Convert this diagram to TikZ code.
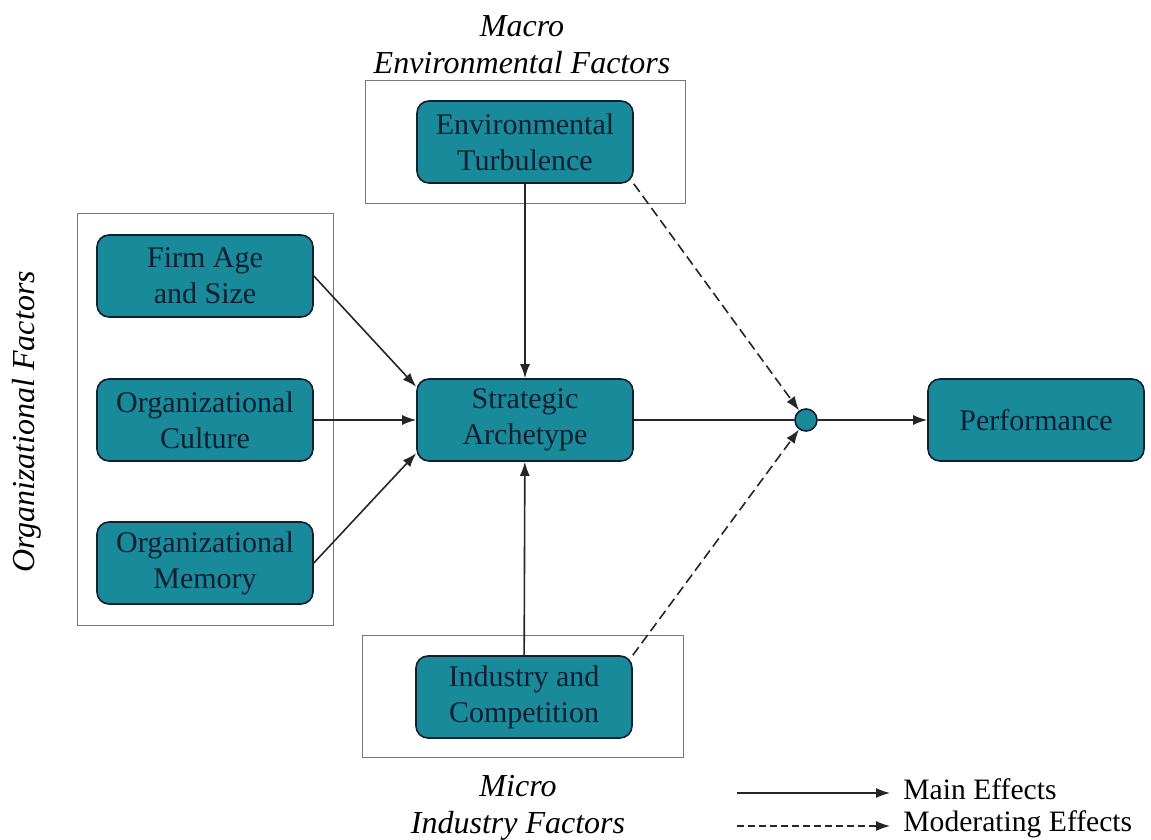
\documentclass[tikz,border=0pt]{standalone}
\usepackage{fontspec}
\setmainfont{Liberation Serif}
\usetikzlibrary{arrows.meta}

\definecolor{boxteal}{RGB}{24,138,154}
\definecolor{boxedge}{RGB}{18,30,50}
\definecolor{groupgray}{RGB}{120,120,120}

\tikzset{
  factor/.style={draw=boxedge,thick,fill=boxteal,rounded corners=6pt,align=center,
    minimum width=108pt,minimum height=41pt,inner sep=2pt,text=boxedge,
    font=\fontsize{15}{18}\selectfont},
  group/.style={draw=groupgray,thin},
  grouplabel/.style={align=center,font=\fontsize{16}{18.5}\selectfont\itshape},
  legendtext/.style={anchor=base west,inner sep=0pt,font=\fontsize{14.8}{18}\selectfont},
  main/.style={draw=black!85,thick,-{Latex[length=7pt,width=5pt]}},
  moder/.style={main,dash pattern=on 5pt off 2.5pt}
}

\begin{document}
\begin{tikzpicture}[x=0.5pt,y=-0.5pt]
\useasboundingbox (0,0) rectangle (1151,840);
% group frames
\draw[group] (365,80) rectangle (685,203);
\draw[group] (77,213) rectangle (333,625);
\draw[group] (362,635) rectangle (683,757);
\node[grouplabel] (macro) at (522,45) {Macro\\Environmental Factors};
\node[grouplabel] (micro) at (518,808) {Micro\\Industry Factors};
\node[grouplabel,rotate=90] (org) at (27,422) {Organizational Factors};
% factors
\node[factor] (et) at (525,142) {Environmental\\Turbulence};
\node[factor] (fa) at (205,276) {Firm Age\\and Size};
\node[factor] (oc) at (205,420) {Organizational\\Culture};
\node[factor] (om) at (205,563) {Organizational\\Memory};
\node[factor] (sa) at (525,420) {Strategic\\Archetype};
\node[factor] (ic) at (524,697) {Industry and\\Competition};
\node[factor] (pf) at (1036,420) {Performance};
\node[circle,draw=boxedge,thick,fill=boxteal,minimum size=11pt,inner sep=0pt] (mod) at (806,420) {};
% main effects
\draw[main] (fa.east) -- (sa.163);
\draw[main] (oc) -- (sa);
\draw[main] (om.east) -- (sa.197);
\draw[main] (et) -- (sa);
\draw[main] (ic) -- (sa);
\draw[draw=black!85,thick] (sa) -- (mod);
\draw[main] (mod) -- (pf);
% moderating effects
\draw[moder] (et.south east) -- (mod);
\draw[moder] (ic.north east) -- (mod);
% legend
\coordinate (l1a) at (737,793);
\coordinate (l1b) at (890,793);
\coordinate (l2a) at (737,826);
\coordinate (l2b) at (890,826);
\draw[main,semithick] (l1a) -- (l1b);
\draw[moder,semithick,dash pattern=on 3.5pt off 2pt] (l2a) -- (l2b);
\node[legendtext] (lm) at (903,799) {Main Effects};
\node[legendtext] (lo) at (903,831) {Moderating Effects};
\end{tikzpicture}
\end{document}
